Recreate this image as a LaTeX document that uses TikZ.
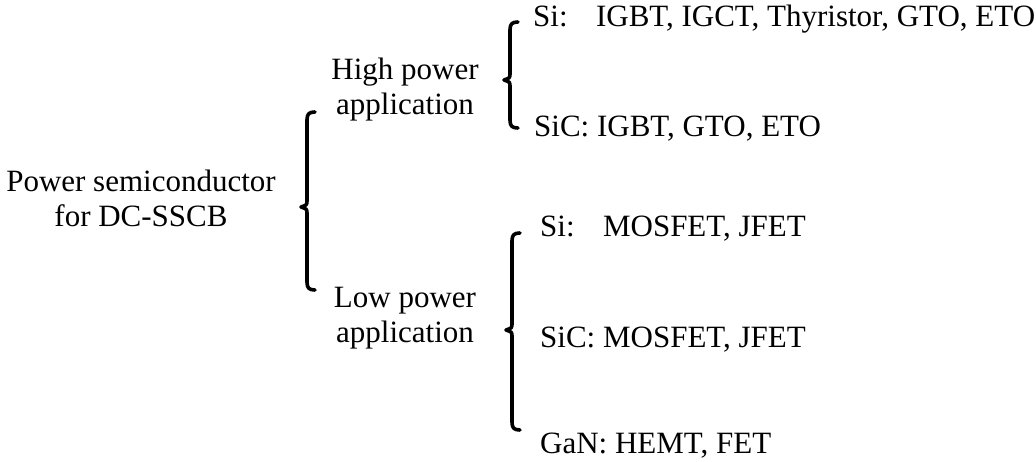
\documentclass[tikz,border=0pt]{standalone}
\usepackage{fontspec}
\setmainfont{Liberation Serif}
\begin{document}
\begin{tikzpicture}[x=1pt,y=-1pt,
  lbl/.style={inner sep=0pt,font=\fontsize{31}{35}\selectfont},
  grp/.style={lbl,align=center},
  brace/.style={line width=3.6pt,line cap=round,line join=round}]
\useasboundingbox (0,0) rectangle (1036,462);
\newcommand\bracepath[4]{%
  \draw[brace] (#1+8,#2) .. controls (#1+2,#2) and (#1,#2+2) .. (#1,#2+8)
    -- (#1,#3-7) .. controls (#1,#3-2) .. (#1-6,#3)
    .. controls (#1,#3+2) .. (#1,#3+7)
    -- (#1,#4-8) .. controls (#1,#4-2) and (#1+2,#4) .. (#1+8,#4);}
% labels
\node[grp,anchor=base] (root) at (141,227) {Power semiconductor\\for DC-SSCB};
\node[grp,anchor=base] (high) at (405,115) {High power\\application};
\node[grp,anchor=base] (low) at (405,342) {Low power\\application};
\node[lbl,anchor=base west] (hsi) at (533,27) {\rlap{Si:}\phantom{SiC:} IGBT, IGCT, Thyristor, GTO, ETO};
\node[lbl,anchor=base west] (hsic) at (534,137) {SiC: IGBT, GTO, ETO};
\node[lbl,anchor=base west] (lsi) at (540,237) {\rlap{Si:}\phantom{SiC:} MOSFET, JFET};
\node[lbl,anchor=base west] (lsic) at (540,348) {SiC: MOSFET, JFET};
\node[lbl,anchor=base west] (lgan) at (540,453) {GaN: HEMT, FET};
% braces
\bracepath{307}{112}{207}{290}
\bracepath{510}{22}{80}{128}
\bracepath{512}{233}{330}{430}
\end{tikzpicture}
\end{document}
